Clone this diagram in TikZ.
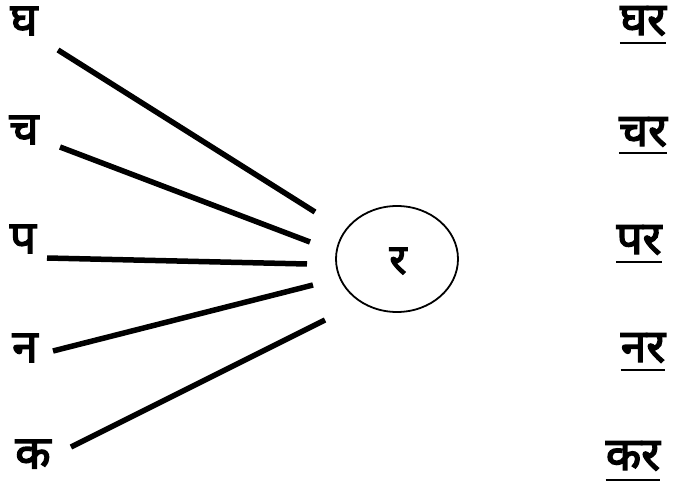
\documentclass[tikz,border=0pt]{standalone}
\usepackage{fontspec}
\newfontfamily\hindi[Script=Devanagari, FakeBold=3]{Noto Sans}
\begin{document}
\begin{tikzpicture}[x=1pt,y=-1pt,
    akshar/.style={font=\hindi\fontsize{46}{50}\selectfont, inner sep=0pt},
    shabd/.style={akshar},
    joda/.style={line width=5.5pt},
    rekha/.style={line width=2.8pt}]
    \useasboundingbox (0,0) rectangle (678,484);

    % left letters
    \node[akshar] (gha) at (24,21) {घ};
    \node[akshar] (cha) at (24,130) {च};
    \node[akshar] (pa)  at (23,239) {प};
    \node[akshar] (na)  at (25,348) {न};
    \node[akshar] (ka)  at (33,454) {क};

    % middle circle
    \draw[line width=1.8pt] (397,259) ellipse (61 and 53);
    \node[akshar, font=\hindi\fontsize{42}{46}\selectfont] (ra) at (398,261) {र};

    % line ends
    \coordinate (gha1) at (58,50);   \coordinate (gha2) at (315,212);
    \coordinate (cha1) at (60,147);  \coordinate (cha2) at (310,242);
    \coordinate (pa1)  at (47,258);  \coordinate (pa2)  at (307,264);
    \coordinate (na1)  at (53,351);  \coordinate (na2)  at (313,285);
    \coordinate (ka1)  at (71,447);  \coordinate (ka2)  at (325,320);
    \draw[joda] (gha1) -- (gha2);
    \draw[joda] (cha1) -- (cha2);
    \draw[joda] (pa1) -- (pa2);
    \draw[joda] (na1) -- (na2);
    \draw[joda] (ka1) -- (ka2);

    % right words
    \node[shabd] (ghar) at (643,21) {घर};
    \node[shabd] (char) at (643,132) {चर};
    \node[shabd] (par)  at (639,240) {पर};
    \node[shabd] (nar)  at (643,348) {नर};
    \node[shabd] (kar)  at (633,456) {कर};
    \foreach \w/\y in {ghar/43, char/153, par/262, nar/370, kar/480}
        \draw[rekha] (\w.west |- 0,\y) -- (\w.east |- 0,\y);
\end{tikzpicture}
\end{document}
